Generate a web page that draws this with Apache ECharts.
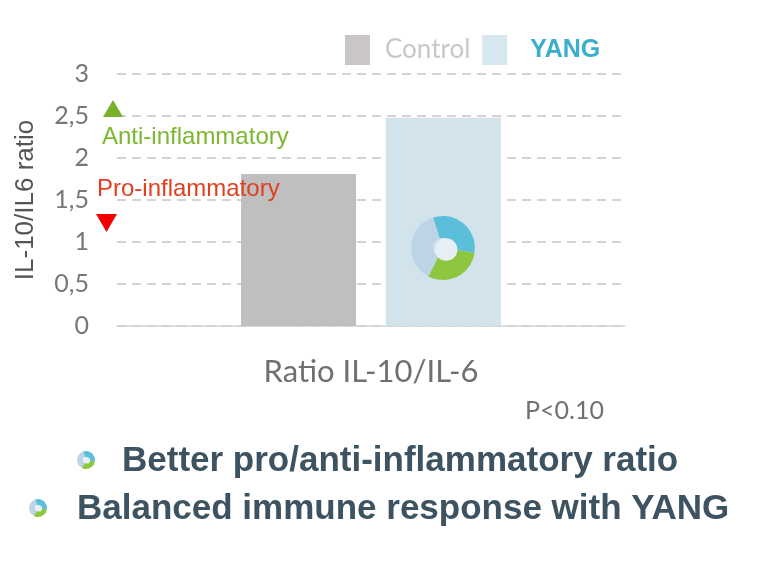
<!DOCTYPE html>
<html>
  <head>
    <meta charset="utf-8">
    <title>Ratio IL-10/IL-6</title>
    <script src="https://cdn.jsdelivr.net/npm/echarts@6/dist/echarts.min.js"></script>
    <style>
      html, body { margin: 0; padding: 0; background: #fff; }
      #main { width: 768px; height: 562px; }
    </style>
  </head>
  <body>
    <div id="main"></div>
    <script>
      // data
      const categories = ['Ratio IL-10/IL-6'];
      const controlValues = [1.81];
      const yangValues = [2.48];
      const seriesNames = ['Control', 'YANG'];
      const yTicks = { min: 0, max: 3, interval: 0.5 };

      // small swirl logo made of three ring sectors
      function logo(cx, cy, r) {
        const r0 = r * 0.32;
        return {
          type: 'group', x: cx, y: cy, z: 100,
          children: [
            { type: 'sector', z: 100, shape: { cx: 0, cy: 0, r: r, r0: r0, startAngle: Math.PI * 0.65, endAngle: Math.PI * 1.4 },
              style: { fill: '#bcd4e6' } },
            { type: 'sector', z: 100, shape: { cx: 0, cy: 0, r: r, r0: r0, startAngle: Math.PI * 1.4, endAngle: Math.PI * 2.05 },
              style: { fill: '#5bbfd9' } },
            { type: 'sector', z: 100, shape: { cx: 0, cy: 0, r: r, r0: r0, startAngle: Math.PI * 0.05, endAngle: Math.PI * 0.65 },
              style: { fill: '#8dc63f' } },
            { type: 'circle', z: 101, shape: { cx: r * 0.1, cy: r * 0.05, r: r0 * 1.1 }, style: { fill: '#e6eff5' } }
          ]
        };
      }

      const chart = echarts.init(document.getElementById('main'));
      chart.setOption({
        animation: false,
        grid: { left: 117, right: 143, top: 74, bottom: 236 },
        legend: {
          left: 345, top: 35, padding: 0,
          itemWidth: 25, itemHeight: 30, itemGap: 12,
          icon: 'rect',
          data: [
            { name: seriesNames[0], itemStyle: { color: '#cbc6c6' },
              textStyle: { color: '#c8c8c8', fontSize: 26, fontFamily: 'Lato', padding: [0, 0, 0, 10] } },
            { name: seriesNames[1], itemStyle: { color: '#d6e7f0' },
              textStyle: { color: '#3aaecb', fontSize: 25, fontWeight: 'bold', fontFamily: 'Liberation Sans', padding: [0, 0, 8, 18] } }
          ]
        },
        xAxis: {
          type: 'category',
          data: categories,
          axisLine: { lineStyle: { color: '#d4d4d4', width: 1.5 } },
          axisTick: { show: false },
          axisLabel: { color: '#707070', fontSize: 31, fontFamily: 'Lato', margin: 30 }
        },
        yAxis: {
          type: 'value',
          min: yTicks.min, max: yTicks.max, interval: yTicks.interval,
          name: 'IL-10/IL6 ratio',
          nameLocation: 'middle', nameRotate: 90, nameGap: 78,
          nameTextStyle: { color: '#555', fontSize: 26, fontFamily: 'Liberation Sans' },
          axisLine: { show: false },
          axisTick: { show: false },
          axisLabel: {
            color: '#777', fontSize: 25, fontFamily: 'Lato', margin: 28,
            formatter: v => String(v).replace('.', ',')
          },
          splitLine: { lineStyle: { color: '#c6c6c6', width: 1.5, type: [9, 6] } }
        },
        series: [
          { name: seriesNames[0], type: 'bar', data: controlValues, barWidth: 115, barGap: '26%',
            itemStyle: { color: '#bfbfbf' } },
          { name: seriesNames[1], type: 'bar', data: yangValues, barWidth: 115,
            itemStyle: { color: '#d2e3ec' } }
        ],
        graphic: [
          // annotations beside the axis
          { type: 'polygon', z: 100, shape: { points: [[103, 117], [123, 117], [113, 100]] }, style: { fill: '#78b02c' } },
          { type: 'text', z: 100, left: 102, top: 125,
            style: { text: 'Anti-inflammatory', fill: '#7cb82f', fontSize: 24, fontFamily: 'Liberation Sans' } },
          { type: 'text', z: 100, left: 97, top: 177,
            style: { text: 'Pro-inflammatory', fill: '#e0401f', fontSize: 24, fontFamily: 'Liberation Sans' } },
          { type: 'polygon', z: 100, shape: { points: [[96, 214], [117, 214], [106.5, 232]] }, style: { fill: '#f00000' } },
          logo(443, 248, 32),
          { type: 'text', left: 525, top: 398,
            style: { text: 'P<0.10', fill: '#707070', fontSize: 25, fontFamily: 'Lato' } },
          logo(86, 460, 9),
          { type: 'text', x: 122, y: 461,
            style: { text: 'Better pro/anti-inflammatory ratio', fill: '#3e5361', fontSize: 35, fontWeight: 'bold', fontFamily: 'Liberation Sans', verticalAlign: 'middle' } },
          logo(38, 508, 9),
          { type: 'text', x: 77, y: 509,
            style: { text: 'Balanced immune response with YANG', fill: '#3e5361', fontSize: 35, fontWeight: 'bold', fontFamily: 'Liberation Sans', verticalAlign: 'middle' } }
        ]
      });
    </script>
  </body>
</html>
